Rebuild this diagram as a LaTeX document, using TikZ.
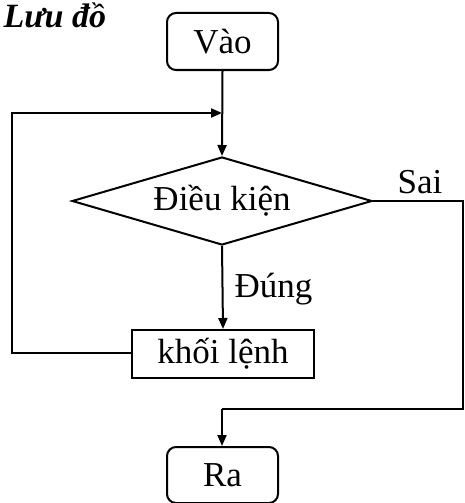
\documentclass[tikz,border=0pt]{standalone}
\usepackage{fontspec}
\setmainfont{Liberation Serif}
\usetikzlibrary{shapes.geometric,arrows.meta}
\begin{document}
\begin{tikzpicture}[x=1pt,y=-1pt,
  every node/.style={font=\fontsize{35}{40}\selectfont},
  line/.style={line width=2pt},
  arr/.style={line width=2pt, -{Triangle[length=11pt,width=9pt]}},
  roundbox/.style={draw, line width=2pt, rounded corners=9pt, minimum width=111pt, inner sep=0pt},
  rectbox/.style={draw, line width=2pt, minimum width=182pt, minimum height=48pt, inner sep=0pt},
  cond/.style={draw, diamond, line width=2pt, shape aspect=3.4, minimum width=300pt, minimum height=88pt, inner sep=0pt}
]
\useasboundingbox (0,0) rectangle (465,503);
\node[anchor=base west, font=\fontsize{34}{40}\selectfont\bfseries\itshape] (title) at (0,28) {Lưu đồ};
\node[roundbox, minimum height=57pt] (vao) at (222.5,41.5) {Vào};
\node[cond] (dk) at (222,201) {Điều kiện};
\node[rectbox] (khoi) at (223,354) {khối lệnh};
\node[roundbox, minimum height=56pt] (ra) at (222.5,475) {Ra};
\node[anchor=base] (sai) at (420,193) {Sai};
\node[anchor=base west] (dung) at (231,297) {Đúng};
\coordinate (tl) at (12,113);
\coordinate (bl) at (12,353);
\coordinate (tj) at (222,113);
\coordinate (rt) at (463,201);
\coordinate (rb) at (463,409);
\coordinate (bj) at (222,409);
\draw[arr] (vao.south) -- (dk.north);
\draw[arr] (dk.south) -- (khoi.north);
\draw[arr] (khoi.west |- bl) -- (bl) -- (tl) -- (tj);
\draw[line] (dk.east) -- (rt) -- (rb) -- (bj);
\draw[arr] (bj) -- (ra.north -| bj);
\end{tikzpicture}
\end{document}
